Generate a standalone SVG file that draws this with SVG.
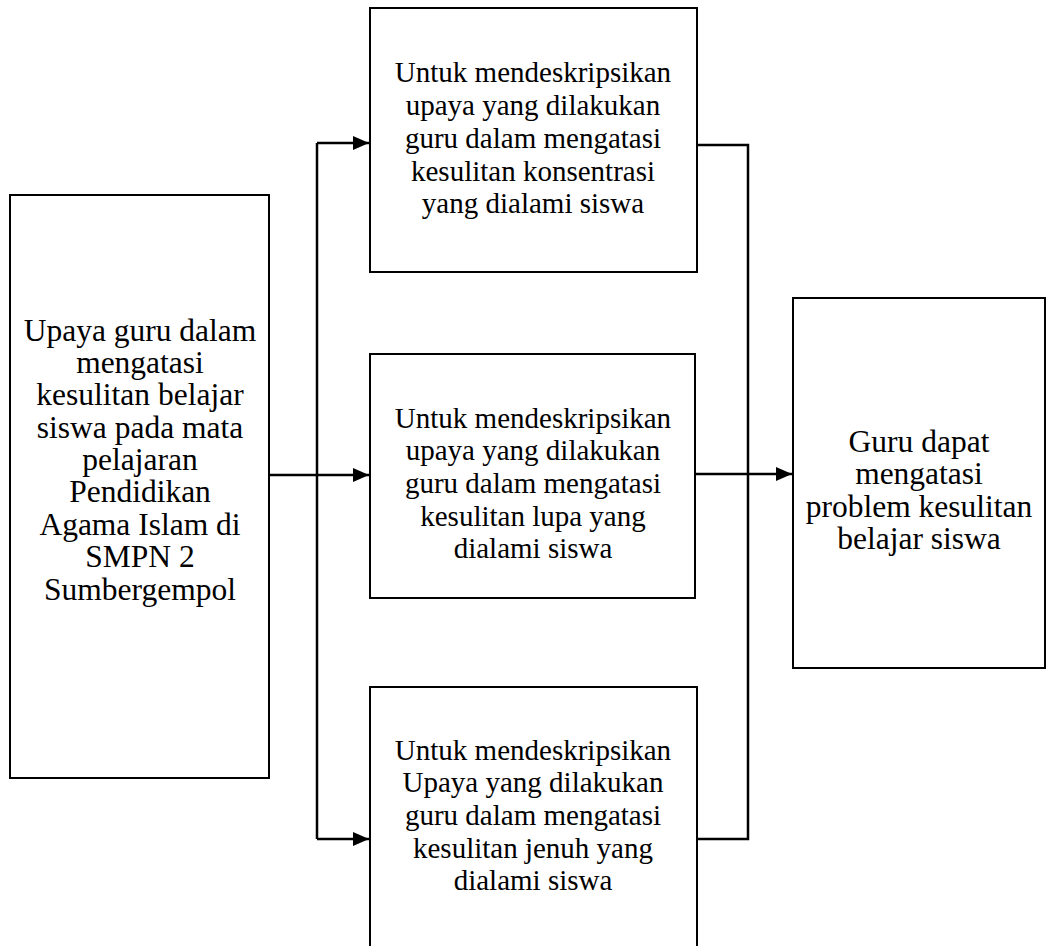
<svg xmlns="http://www.w3.org/2000/svg" width="1046" height="946" viewBox="0 0 1046 946">
<style>
.box{fill:#fff;stroke:#000;stroke-width:2}
.t{font-family:"Liberation Serif","Times New Roman",serif;font-size:29px;fill:#000;text-anchor:middle}
.s{font-size:31.5px}
.c{fill:none;stroke:#000;stroke-width:2.5}
</style>
<defs>
<marker id="ah" markerWidth="16" markerHeight="14" refX="16" refY="7" orient="auto" markerUnits="userSpaceOnUse" viewBox="0 0 16 14">
<path d="M0,0 L16,7 L0,14 z" fill="#000"/>
</marker>
</defs>
<rect width="1046" height="946" fill="#fff"/>
<g id="n-left">
<rect class="box" x="10" y="195" width="259" height="583"/>
<text class="t s"><tspan x="140" y="341">Upaya guru dalam</tspan><tspan x="140" y="373">mengatasi</tspan><tspan x="140" y="405">kesulitan belajar</tspan><tspan x="140" y="438">siswa pada mata</tspan><tspan x="140" y="470">pelajaran</tspan><tspan x="140" y="502">Pendidikan</tspan><tspan x="140" y="535">Agama Islam di</tspan><tspan x="140" y="567">SMPN 2</tspan><tspan x="140" y="600">Sumbergempol</tspan></text>
</g>
<g id="n-top">
<rect class="box" x="370" y="8" width="327" height="264"/>
<text class="t"><tspan x="533" y="82">Untuk mendeskripsikan</tspan><tspan x="533" y="115">upaya yang dilakukan</tspan><tspan x="533" y="148">guru dalam mengatasi</tspan><tspan x="533" y="181">kesulitan konsentrasi</tspan><tspan x="533" y="213">yang dialami siswa</tspan></text>
</g>
<g id="n-mid">
<rect class="box" x="370" y="354" width="325" height="244"/>
<text class="t"><tspan x="533" y="428">Untuk mendeskripsikan</tspan><tspan x="533" y="460">upaya yang dilakukan</tspan><tspan x="533" y="493">guru dalam mengatasi</tspan><tspan x="533" y="526">kesulitan lupa yang</tspan><tspan x="533" y="558">dialami siswa</tspan></text>
</g>
<g id="n-bot">
<rect class="box" x="370" y="687" width="327" height="270"/>
<text class="t"><tspan x="533" y="760">Untuk mendeskripsikan</tspan><tspan x="533" y="792">Upaya yang dilakukan</tspan><tspan x="533" y="825">guru dalam mengatasi</tspan><tspan x="533" y="858">kesulitan jenuh yang</tspan><tspan x="533" y="890">dialami siswa</tspan></text>
</g>
<g id="n-right">
<rect class="box" x="793" y="298" width="252" height="370"/>
<text class="t s"><tspan x="919" y="452">Guru dapat</tspan><tspan x="919" y="484">mengatasi</tspan><tspan x="919" y="517">problem kesulitan</tspan><tspan x="919" y="549">belajar siswa</tspan></text>
</g>
<g id="connectors">
<path class="c" d="M269,475 H369" marker-end="url(#ah)"/>
<path class="c" d="M317,143 V839"/>
<path class="c" d="M317,143 H369" marker-end="url(#ah)"/>
<path class="c" d="M317,839 H369" marker-end="url(#ah)"/>
<path class="c" d="M697,145 H748 V839 H697"/>
<path class="c" d="M695,474 H792" marker-end="url(#ah)"/>
</g>
</svg>
